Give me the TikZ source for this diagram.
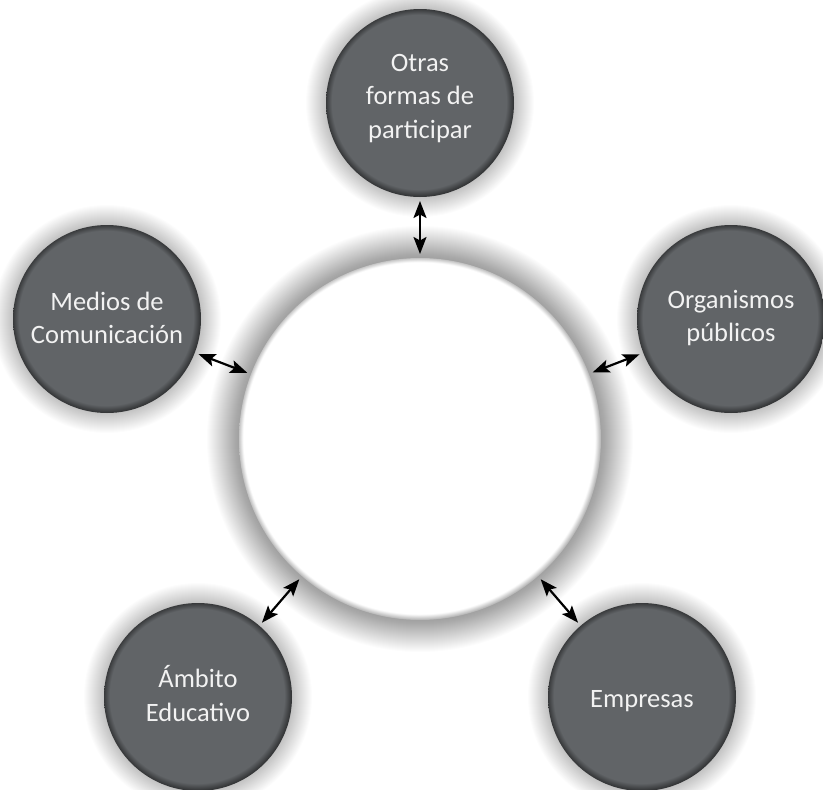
\documentclass[tikz,border=0pt]{standalone}
\usepackage{fontspec}
\setmainfont{Carlito}
\usetikzlibrary{arrows.meta}
\definecolor{btngray}{RGB}{97,100,103}
\definecolor{btntext}{RGB}{242,242,242}
\pgfdeclareradialshading{btnshade}{\pgfpoint{-1.2bp}{1.2bp}}{color(0bp)=(btngray); color(23.2bp)=(btngray); color(25.3bp)=(btngray!45!black); color(26.6bp)=(black!85); color(30bp)=(black!85)}
\pgfdeclareradialshading{ctrshade}{\pgfpoint{-0.7bp}{0.7bp}}{color(0bp)=(white); color(24.3bp)=(white); color(25.2bp)=(black!35); color(25.95bp)=(black!80); color(30bp)=(black!80)}
\begin{document}
\begin{tikzpicture}[x=1pt,y=-1pt,
  btn/.style={circle, inner sep=0pt, outer sep=0pt, minimum size=188pt, shading=btnshade},
  ctr/.style={circle, inner sep=0pt, outer sep=0pt, minimum size=362pt, shading=ctrshade},
  glowring/.style={fill=black, opacity=#1},
  lbl/.style={text=btntext, align=center, font=\fontsize{26.5}{33.5}\selectfont, inner sep=0pt},
  arr/.style={{Stealth[length=17pt,width=13pt,inset=3.5pt]}-{Stealth[length=17pt,width=13pt,inset=3.5pt]}, line width=2.2pt, shorten >=4pt, shorten <=4pt}]
\fill[white] (0,0) rectangle (823,790);
\useasboundingbox (0,0) rectangle (823,790);
% centres
\coordinate (pc) at (420,439);
\coordinate (ptop) at (420,103);
\coordinate (pleft) at (107,319);
\coordinate (pright) at (731,319);
\coordinate (pbl) at (198,697);
\coordinate (pbr) at (642,697);
% soft glows
\foreach \k in {1,...,32} {
  \fill[glowring=0.011] (pc) circle[radius=181+\k];
}
\foreach \p in {ptop,pleft,pright,pbl,pbr} {
  \foreach \k in {1,...,20} {
    \fill[glowring=0.011] (\p) circle[radius=94+\k];
  }
}
\node[ctr] (c) at (pc) {};
\node[btn] (top) at (ptop) {};
\node[btn] (left) at (pleft) {};
\node[btn] (right) at (pright) {};
\node[btn] (bl) at (pbl) {};
\node[btn] (br) at (pbr) {};
\node[lbl] (topt) at (420,98.5) {Otras\\formas de\\participar};
\node[lbl] (leftt) at (107,318) {Medios de\\Comunicación};
\node[lbl] (rightt) at (731,318) {Organismos\\públicos};
\node[lbl] (blt) at (198,693.5) {Ámbito\\Educativo};
\node[lbl] (brt) at (642,701) {Empresas};
\draw[arr] (c) -- (top);
\draw[arr] (c) -- (left);
\draw[arr] (c) -- (right);
\draw[arr] (c) -- (bl);
\draw[arr] (c) -- (br);
\end{tikzpicture}
\end{document}
